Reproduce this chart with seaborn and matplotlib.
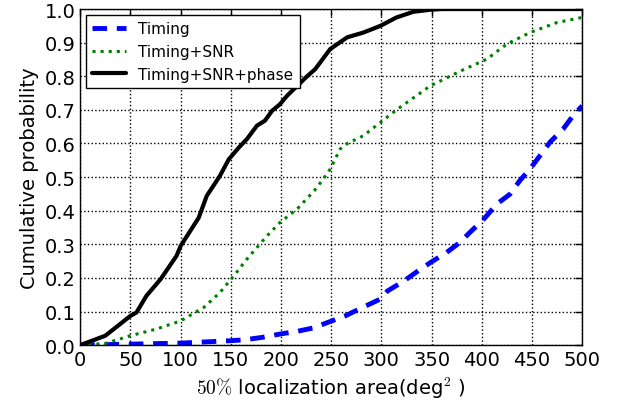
import numpy as np
import pandas as pd
import matplotlib
matplotlib.use("Agg")
import matplotlib.pyplot as plt
import seaborn as sns

# Curvas (area en deg^2, probabilidad acumulada)
x_timing = [0, 50, 100, 149, 164, 181, 199, 216, 232, 247, 264, 279, 299, 306, 322,
            339, 349, 365, 378, 388, 402, 415, 428, 438, 448, 458, 468, 481, 491, 500]
y_timing = [0.0, 0.003, 0.006, 0.013, 0.016, 0.023, 0.033, 0.041, 0.051, 0.068, 0.087,
            0.109, 0.137, 0.161, 0.19, 0.226, 0.246, 0.276, 0.305, 0.335, 0.375, 0.42,
            0.449, 0.49, 0.524, 0.564, 0.604, 0.643, 0.683, 0.712]

x_snr = [0, 25, 50, 76, 100, 123, 139, 153, 166, 186, 199, 216, 233, 242, 249, 259,
         266, 282, 315, 349, 382, 405, 425, 448, 475, 500]
y_snr = [0.0, 0.005, 0.028, 0.048, 0.072, 0.112, 0.156, 0.206, 0.256, 0.325, 0.365,
         0.405, 0.459, 0.494, 0.524, 0.584, 0.60, 0.623, 0.70, 0.772, 0.82, 0.851,
         0.896, 0.93, 0.96, 0.975]

x_phase = [0, 25, 50, 56, 66, 80, 96, 100, 118, 126, 139, 148, 158, 166, 176, 184,
           191, 199, 206, 226, 234, 249, 266, 282, 299, 315, 332, 349, 360, 500]
y_phase = [0.0, 0.028, 0.087, 0.097, 0.147, 0.196, 0.266, 0.295, 0.379, 0.444, 0.503,
           0.553, 0.588, 0.613, 0.653, 0.668, 0.697, 0.717, 0.742, 0.80, 0.821, 0.881,
           0.916, 0.93, 0.95, 0.975, 0.992, 0.998, 1.0, 1.0]

sns.set_style("white")
plt.rcParams["mathtext.fontset"] = "cm"
plt.rcParams["xtick.direction"] = "in"
plt.rcParams["ytick.direction"] = "in"
plt.rcParams["text.color"] = "black"
plt.rcParams["axes.labelcolor"] = "black"
plt.rcParams["xtick.color"] = "black"
plt.rcParams["ytick.color"] = "black"

fig = plt.figure(figsize=(6.22, 4.02), dpi=100)
ax = fig.add_axes([0.129, 0.139, 0.807, 0.836])

sns.lineplot(x=x_timing, y=y_timing, ax=ax, color="blue", lw=3.5,
             linestyle=(0, (3, 2)), label="Timing")
sns.lineplot(x=x_snr, y=y_snr, ax=ax, color="green", lw=2.2,
             linestyle=":", label="Timing+SNR")
sns.lineplot(x=x_phase, y=y_phase, ax=ax, color="black", lw=3,
             label="Timing+SNR+phase")

ax.set_xlim(0, 500)
ax.set_ylim(0, 1)
ax.set_xticks(np.arange(0, 501, 50))
ax.set_yticks(np.arange(0, 1.01, 0.1))
ax.set_yticklabels([f"{v:.1f}" for v in np.arange(0, 1.01, 0.1)])
ax.tick_params(labelsize=14, top=True, right=True, length=5, width=1, color="k")
ax.grid(True, linestyle=":", color="black", lw=1)
for s in ax.spines.values():
    s.set_color("black")
    s.set_linewidth(1)

ax.set_xlabel(r"$50\%$ localization area(deg$^2$ )", fontsize=14)
ax.set_ylabel("Cumulative probability", fontsize=14)

leg = ax.legend(loc="upper left", fontsize=11, fancybox=False, framealpha=1,
                handlelength=2.2, borderaxespad=0.4)
leg.get_frame().set_edgecolor("black")
leg.get_frame().set_linewidth(1)

fig.savefig("out.png", dpi=100)
